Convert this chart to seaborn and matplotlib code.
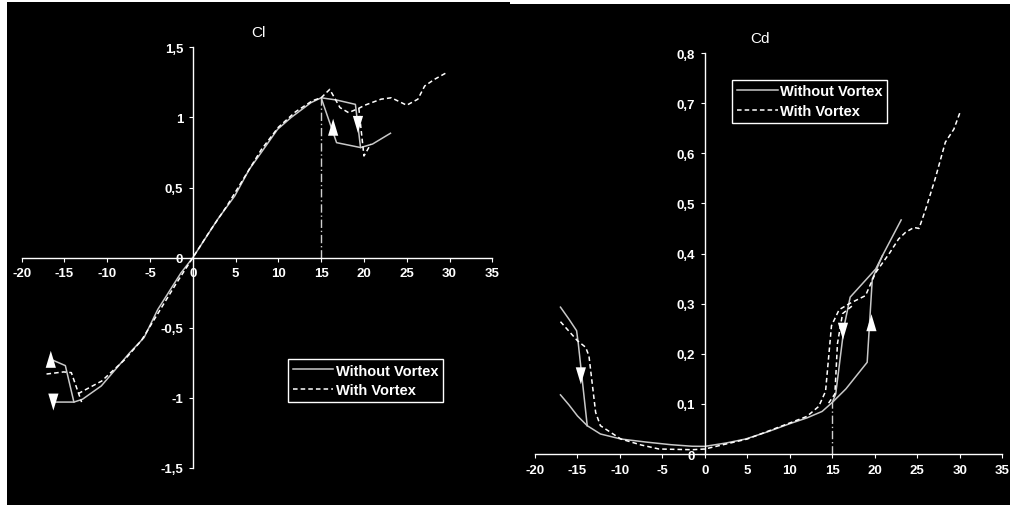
import matplotlib
matplotlib.use("Agg")
import matplotlib.pyplot as plt
from matplotlib.lines import Line2D
from matplotlib.ticker import FuncFormatter
import pandas as pd
import seaborn as sns

# ---- Cl data (angle of attack in deg) ----
# without vortex: main branch, stall-down branch, negative-stall branch
cl_wo_a1 = [-16.2, -13.9, -12.9, -10.7, -7.4, -5.7, -4.1, -1.4, 0, 2.9, 4.9, 6.6, 8.0, 9.9,
            11.5, 13.8, 15.0, 16.8, 19.0, 19.6, 21.0, 23.1]
cl_wo_c1 = [-1.03, -1.03, -1.01, -0.915, -0.68, -0.57, -0.37, -0.11, 0, 0.273, 0.44, 0.63, 0.75,
            0.915, 1.0, 1.105, 1.14, 1.124, 1.093, 0.785, 0.81, 0.887]
cl_wo_a2 = [19.6, 16.8, 15.0]
cl_wo_c2 = [0.785, 0.82, 1.14]
cl_wo_a3 = [-16.6, -14.9, -13.9]
cl_wo_c3 = [-0.725, -0.77, -1.03]

# with vortex
cl_w_a1 = [-13.4, -12.8, -10.65, -8, -6, -4, -2, 0, 2, 4, 6, 8, 10, 12, 14, 15, 16, 17.2, 18.2,
           19.4, 20.1, 22.0, 23.2, 25.0, 26.3, 27.1, 28.2, 29.8]
cl_w_c1 = [-0.97, -0.95, -0.88, -0.73, -0.59, -0.39, -0.19, 0, 0.19, 0.37, 0.57, 0.77, 0.93, 1.04,
           1.12, 1.14, 1.2, 1.07, 1.034, 1.065, 1.087, 1.13, 1.14, 1.087, 1.13, 1.224, 1.27, 1.324]
cl_w_a2 = [19.4, 20.0, 20.8]
cl_w_c2 = [1.065, 0.725, 0.81]
cl_w_a3 = [-17.1, -15.1, -14.2, -13.0]
cl_w_c3 = [-0.83, -0.815, -0.82, -1.03]

cl_arrow_a = [-16.6, -16.3, 16.4, 19.3]
cl_arrow_v = [-0.725, -1.03, 0.93, 0.95]
cl_arrow_dir = ["up", "down", "up", "down"]

# ---- Cd data ----
cd_wo_a1 = [-17, -16, -15, -13.85, -12.3, -9.9, -7, -4, -1.5, 0, 2.5, 4.8, 7.5, 9.9, 12, 13.8,
            15.0, 16.6, 19.1, 19.7, 20.9, 23.1]
cd_wo_c1 = [0.118, 0.098, 0.076, 0.0565, 0.040, 0.030, 0.024, 0.0186, 0.0155, 0.0153, 0.022,
            0.030, 0.045, 0.06, 0.072, 0.085, 0.103, 0.13, 0.183, 0.349, 0.396, 0.467]
cd_wo_a2 = [20.9, 20.1, 17.1, 16.4, 15.4, 15.0]
cd_wo_c2 = [0.396, 0.369, 0.313, 0.256, 0.12, 0.103]
cd_wo_a3 = [-17, -16, -15.1, -14.9, -13.85]
cd_wo_c3 = [0.293, 0.269, 0.246, 0.22, 0.0565]

cd_w_a1 = [-17, -15, -14.04, -13.65, -12.86, -12.3, -9.9, -7.5, -5.4, -1.5, 0, 2.5, 5, 7.5, 10,
           12, 13.4, 14.2, 14.6, 14.9, 15.8, 17.0, 18.9, 20.1, 21.7, 22.8, 23.6, 24.6, 25.2,
           26.0, 27.1, 28.3, 29.3, 30.1]
cd_w_c1 = [0.264, 0.226, 0.213, 0.196, 0.083, 0.0565, 0.03, 0.018, 0.01, 0.0086, 0.01, 0.02,
           0.03, 0.046, 0.062, 0.075, 0.095, 0.125, 0.2, 0.256, 0.288, 0.30, 0.316, 0.362, 0.40,
           0.429, 0.442, 0.452, 0.45, 0.489, 0.549, 0.622, 0.648, 0.685]
cd_w_a2 = [17.3, 16.2, 15.6, 15.3, 14.5]
cd_w_c2 = [0.295, 0.28, 0.22, 0.12, 0.10]

cd_arrow_a = [-14.6, 16.25, 19.6]
cd_arrow_v = [0.156, 0.245, 0.262]
cd_arrow_dir = ["down", "down", "up"]

stall_angle = 15.0
x_ticks = list(range(-20, 40, 5))
cl_ticks = [-1.5, -1, -0.5, 0, 0.5, 1, 1.5]
cd_ticks = [0, 0.1, 0.2, 0.3, 0.4, 0.5, 0.6, 0.7, 0.8]
labels = ["Without Vortex", "With Vortex"]


def make_df(branches):
    rows = []
    for series, branch, a, v in branches:
        for x, y in zip(a, v):
            rows.append({"alpha": x, "val": y, "series": series, "branch": series + str(branch)})
    return pd.DataFrame(rows)


cl_df = make_df([
    (labels[0], 1, cl_wo_a1, cl_wo_c1), (labels[0], 2, cl_wo_a2, cl_wo_c2),
    (labels[0], 3, cl_wo_a3, cl_wo_c3),
    (labels[1], 1, cl_w_a1, cl_w_c1), (labels[1], 2, cl_w_a2, cl_w_c2),
    (labels[1], 3, cl_w_a3, cl_w_c3),
])
cd_df = make_df([
    (labels[0], 1, cd_wo_a1, cd_wo_c1), (labels[0], 2, cd_wo_a2, cd_wo_c2),
    (labels[0], 3, cd_wo_a3, cd_wo_c3),
    (labels[1], 1, cd_w_a1, cd_w_c1), (labels[1], 2, cd_w_a2, cd_w_c2),
])
cl_arrows = pd.DataFrame({"alpha": cl_arrow_a, "val": cl_arrow_v, "dir": cl_arrow_dir})
cd_arrows = pd.DataFrame({"alpha": cd_arrow_a, "val": cd_arrow_v, "dir": cd_arrow_dir})

plt.rcParams["font.family"] = ["Liberation Sans", "DejaVu Sans"]

palette = {labels[0]: "#c8c8c8", labels[1]: "white"}
dashes = {labels[0]: "", labels[1]: (3, 2)}
tri_up = [(-0.6, -1), (0.6, -1), (0, 1), (-0.6, -1)]
tri_down = [(-0.6, 1), (0.6, 1), (0, -1), (-0.6, 1)]
markers = {"up": tri_up, "down": tri_down}

fig = plt.figure(figsize=(10.1, 5.06), dpi=100, facecolor="white")
ax1 = fig.add_axes([7 / 1010, 0.0, 503 / 1010, 503 / 506])
ax2 = fig.add_axes([510 / 1010, 0.0, 500 / 1010, 501 / 506])


def comma(v, pos):
    s = "%g" % v
    return s.replace(".", ",")


def style_axes(ax, xlim, ylim, yticks, title, title_y):
    ax.set_facecolor("black")
    ax.set_xlim(*xlim)
    ax.set_ylim(*ylim)
    for side in ["top", "right"]:
        ax.spines[side].set_visible(False)
    ax.spines["left"].set_position(("data", 0))
    ax.spines["bottom"].set_position(("data", 0))
    ax.spines["left"].set_bounds(yticks[0], yticks[-1])
    ax.spines["bottom"].set_bounds(x_ticks[0], x_ticks[-1])
    for side in ["left", "bottom"]:
        ax.spines[side].set_color("white")
        ax.spines[side].set_linewidth(1.0)
    ax.set_xticks(x_ticks)
    ax.set_yticks(yticks)
    ax.xaxis.set_major_formatter(FuncFormatter(comma))
    ax.yaxis.set_major_formatter(FuncFormatter(comma))
    ax.tick_params(axis="both", colors="white", labelcolor="white", labelsize=9.5,
                   length=3, width=0.8, direction="out")
    ax.tick_params(axis="x", pad=4)
    ax.tick_params(axis="y", pad=4)
    for lab in ax.get_xticklabels() + ax.get_yticklabels():
        lab.set_fontweight("bold")
    ax.set_xlabel("")
    ax.set_ylabel("")
    ax.text(0.5, title_y, title, transform=ax.transAxes, color="white", fontsize=11,
            ha="center", va="center")


def draw(ax, df, arrows):
    sns.lineplot(data=df, x="alpha", y="val", hue="series", style="series", units="branch",
                 estimator=None, sort=False, palette=palette, dashes=dashes, linewidth=1.1,
                 legend=False, ax=ax)
    sns.scatterplot(data=arrows, x="alpha", y="val", style="dir", markers=markers, s=150,
                    color="white", edgecolor="white", linewidth=0, legend=False, ax=ax,
                    zorder=5)


def add_legend(ax, anchor):
    handles = [Line2D([], [], color=palette[labels[0]], lw=1.1),
               Line2D([], [], color=palette[labels[1]], lw=1.1, dashes=(3, 2))]
    leg = ax.legend(handles, labels, loc="upper left", bbox_to_anchor=anchor,
                    borderaxespad=0, frameon=True, fancybox=False, facecolor="black",
                    edgecolor="white", framealpha=1, handlelength=2.8, handletextpad=0.2,
                    borderpad=0.3, labelspacing=0.4, prop={"weight": "bold", "size": 10.5})
    leg.get_frame().set_linewidth(1.0)
    for t in leg.get_texts():
        t.set_color("white")


# ---- Cl panel ----
draw(ax1, cl_df, cl_arrows)
cl_max = max(cl_wo_c1)
ax1.plot([stall_angle, stall_angle], [0, cl_max], color="#d0d0d0", lw=1.0,
         dashes=(6, 2, 1, 2))
style_axes(ax1, (-21.72, 37.07), (-1.764, 1.823), cl_ticks, "Cl", 0.94)
add_legend(ax1, (0.559, 0.290))

# ---- Cd panel ----
draw(ax2, cd_df, cd_arrows)
cd_stall = cd_wo_c1[cd_wo_a1.index(stall_angle)]
ax2.plot([stall_angle, stall_angle], [0, cd_stall], color="#d0d0d0", lw=1.0,
         dashes=(6, 2, 1, 2))
style_axes(ax2, (-22.94, 35.91), (-0.1017, 0.8978), cd_ticks, "Cd", 0.933)
add_legend(ax2, (0.4446, 0.8483))

fig.savefig("out.png", dpi=100, facecolor="white")
